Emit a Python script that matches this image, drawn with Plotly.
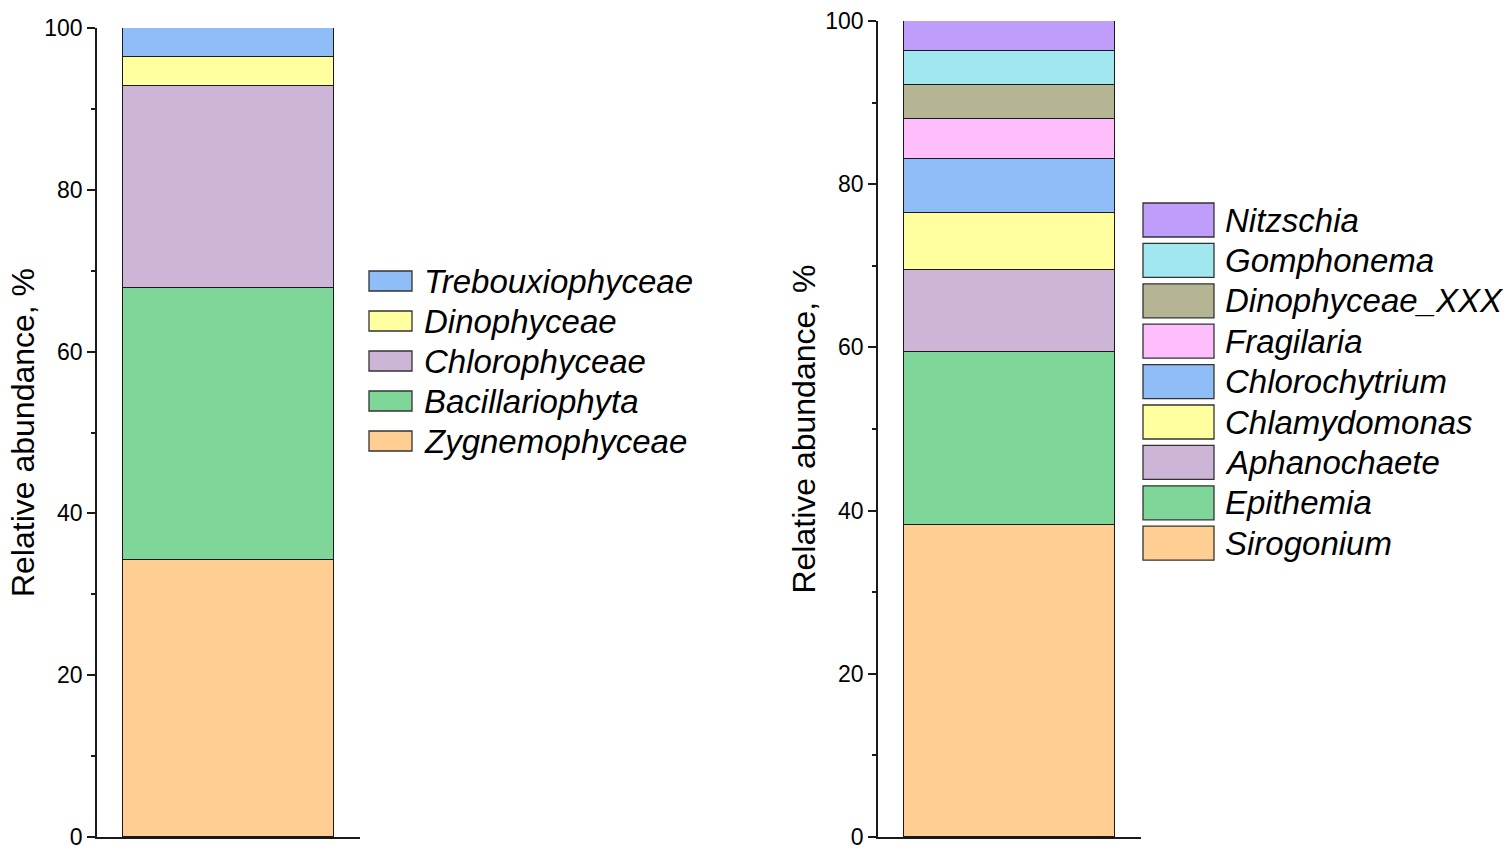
import plotly.graph_objects as go

W, H = 1512, 855

# left panel: classes (bottom to top)
classes = ['Zygnemophyceae', 'Bacillariophyta', 'Chlorophyceae', 'Dinophyceae', 'Trebouxiophyceae']
class_pct = [34.2, 33.7, 24.9, 3.6, 3.6]
class_colors = ['#FECE93', '#7FD699', '#CDB5D8', '#FFFFA0', '#8EBDF8']

# right panel: genera (bottom to top)
genera = ['Sirogonium', 'Epithemia', 'Aphanochaete', 'Chlamydomonas', 'Chlorochytrium',
          'Fragilaria', 'Dinophyceae_XXX', 'Gomphonema', 'Nitzschia']
genus_pct = [38.2, 21.2, 10.1, 7.0, 6.6, 4.9, 4.2, 4.1, 3.7]
genus_colors = ['#FECE93', '#7FD699', '#CDB5D8', '#FFFFA0', '#8EBDF8',
                '#FDBEFB', '#B5B594', '#A0E7EF', '#BF9DFB']

FONT = 'Liberation Sans, Arial, sans-serif'
INK = '#1a1a1a'

fig = go.Figure()

for name, v, c in zip(classes, class_pct, class_colors):
    fig.add_trace(go.Bar(x=[0], y=[v], name=name, width=0.8,
                         marker=dict(color=c, line=dict(color=INK, width=1.3)),
                         xaxis='x', yaxis='y', showlegend=False))

for name, v, c in zip(genera, genus_pct, genus_colors):
    fig.add_trace(go.Bar(x=[0], y=[v], name=name, width=0.8,
                         marker=dict(color=c, line=dict(color=INK, width=1.3)),
                         xaxis='x2', yaxis='y2', showlegend=False))


def px(x):
    return x / W


def py(y):
    return 1 - y / H


yaxis_style = dict(range=[0, 100], dtick=20, ticks='outside', ticklen=8, tickwidth=1.5,
                   tickcolor=INK, showline=True, linecolor=INK, linewidth=1.8,
                   showgrid=False, zeroline=False, automargin=False,
                   minor=dict(dtick=10, ticks='outside', ticklen=4, tickwidth=1.5, tickcolor=INK),
                   tickfont=dict(family=FONT, size=23, color='black'),
                   title=dict(text='Relative abundance, %', standoff=0,
                              font=dict(family=FONT, size=32, color='black')))
xaxis_style = dict(range=[-0.5, 0.5], showticklabels=False, ticks='', showline=True,
                   linecolor=INK, linewidth=1.8, showgrid=False, zeroline=False,
                   automargin=False, fixedrange=True)

fig.update_layout(
    width=W, height=H, barmode='stack', bargap=0,
    margin=dict(l=0, r=0, t=0, b=0, autoexpand=False),
    paper_bgcolor='white', plot_bgcolor='white',
    xaxis=dict(domain=[px(97), px(360)], anchor='y', **xaxis_style),
    yaxis=dict(domain=[py(837), py(28)], anchor='x', **yaxis_style),
    xaxis2=dict(domain=[px(878), px(1141)], anchor='y2', **xaxis_style),
    yaxis2=dict(domain=[py(837), py(21)], anchor='x2', **yaxis_style),
)

# hand-drawn legends with large swatches, top row = top of stack
shapes = []
annotations = []


def legend(names, colors, x0, x1, y_first, step, box_h, text_x, size):
    for i, (name, c) in enumerate(zip(names[::-1], colors[::-1])):
        yc = y_first + i * step
        shapes.append(dict(type='rect', xref='paper', yref='paper',
                           x0=px(x0), x1=px(x1), y0=py(yc + box_h / 2), y1=py(yc - box_h / 2),
                           fillcolor=c, line=dict(color='#333333', width=1.3)))
        annotations.append(dict(xref='paper', yref='paper', x=px(text_x), y=py(yc),
                                xanchor='left', yanchor='middle', showarrow=False,
                                text=name, font=dict(family=FONT, size=size, color='black',
                                                     style='italic')))


legend(classes, class_colors, 369, 412, 281, 40, 20, 422, 33)
legend(genera, genus_colors, 1143, 1214, 220, 40.4, 34, 1223, 33)

fig.update_layout(shapes=shapes, annotations=annotations)

# drop the default body margin so the figure fills the window exactly
fig.write_html('out.html', config={'displayModeBar': False},
               post_script="document.body.style.margin='0';document.body.style.overflow='hidden';")
